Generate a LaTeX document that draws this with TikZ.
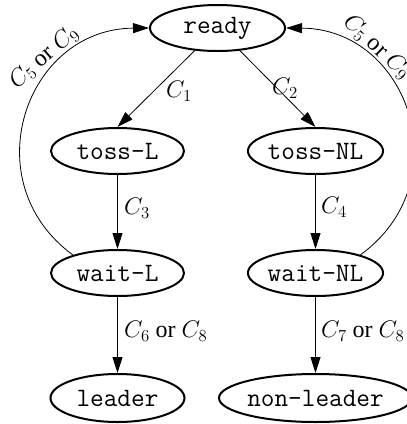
\RequirePackage{fix-cm}
\documentclass[tikz,border=0pt]{standalone}
\usepackage[no-math]{fontspec}
\setmainfont{Liberation Serif}
\usetikzlibrary{shapes.geometric,arrows.meta}
\begin{document}
\begin{tikzpicture}[x=1pt,y=-1pt,
  state/.style={ellipse,draw,line width=2pt,minimum width=133pt,minimum height=46pt,
    inner sep=0pt,font=\fontsize{26.5}{30}\selectfont\ttfamily},
  trans/.style={line width=0.8pt,-{Triangle[length=16pt,width=10pt]}},
  cond/.style={font=\fontsize{24}{28}\selectfont,inner sep=0pt}]
\useasboundingbox (0,0) rectangle (407,424);
\clip (0,0) rectangle (407,424);

% states
\node[state,minimum width=135pt] (ready)  at (217.5,28)  {ready};
\node[state] (tossL)  at (117.5,151) {toss-L};
\node[state,minimum width=135pt] (tossNL) at (315.5,151) {toss-NL};
\node[state] (waitL)  at (117.5,273) {wait-L};
\node[state,minimum width=135pt] (waitNL) at (315.5,273) {wait-NL};
\node[state,minimum width=134pt,minimum height=48pt] (leader) at (117.5,398) {leader};
\node[state,minimum width=182pt,minimum height=48pt] (nonleader) at (315.5,398) {non-leader};

% transitions
\draw[trans] (ready) -- (tossL.north);
\draw[trans] (ready) -- (tossNL.north);
\draw[trans] (tossL) -- (waitL);
\draw[trans] (tossNL) -- (waitNL);
\draw[trans] (waitL) -- (leader);
\draw[trans] (waitNL) -- (nonleader);
\draw[trans] (waitL.158) .. controls (-27,182) and (25,29) .. (ready.west);
\draw[trans] (waitNL.22) .. controls (461,182) and (409,29) .. (ready.east);

% conditions
\node[cond] (c1) at (179,91) {$C_1$};
\node[cond] (c2) at (285,88) {$C_2$};
\node[cond] (c3) at (137,208) {$C_3$};
\node[cond] (c4) at (334,207) {$C_4$};
\node[cond,anchor=west] (c68) at (124,331) {$C_6$ or $C_8$};
\node[cond,anchor=west] (c78) at (321,331) {$C_7$ or $C_8$};
\node[cond,rotate=41] (c59l) at (44,57) {$C_5$ or $C_9$};
\node[cond,rotate=-43] (c59r) at (377,47) {$C_5$ or $C_9$};
\end{tikzpicture}
\end{document}
